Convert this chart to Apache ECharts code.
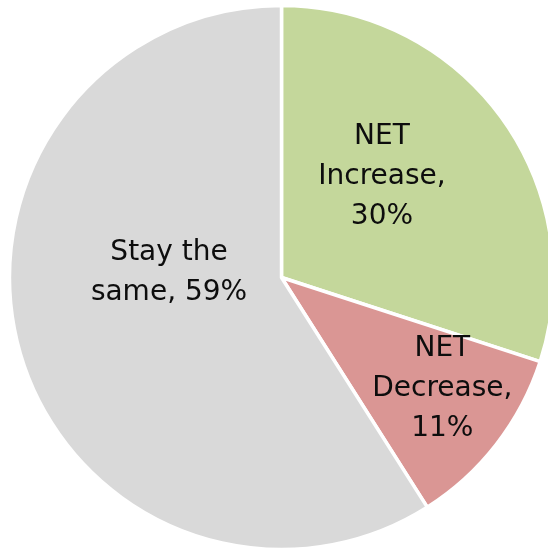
<!DOCTYPE html>
<html>
<head>
<meta charset="utf-8">
<script src="https://cdn.jsdelivr.net/npm/echarts@6/dist/echarts.min.js"></script>
<style>
  html, body { margin: 0; padding: 0; background: #fff; }
  #chart { width: 548px; height: 550px; }
</style>
</head>
<body>
<div id="chart"></div>
<script>
// Share of respondents by expected change
const categories = ['NET\nIncrease', 'NET\nDecrease', 'Stay the\nsame'];
const shares = [30, 11, 59];
const colors = ['#c4d79b', '#da9694', '#d9d9d9'];
// text placed between the category name and its value
const separators = [',\n', ',\n', ', '];
// label nudges from the default inside position
const labelOffsets = [[-12, -19], [51, 26], [21, -44]];

const chart = echarts.init(document.getElementById('chart'), null, { renderer: 'canvas' });

chart.setOption({
  animation: false,
  series: [{
    type: 'pie',
    center: [281.5, 277.5],
    radius: [0, 272],
    startAngle: 90,
    clockwise: true,
    avoidLabelOverlap: false,
    itemStyle: { borderColor: '#ffffff', borderWidth: 3.5 },
    label: {
      show: true,
      position: 'inside',
      formatter: p => p.name + separators[p.dataIndex] + p.value + '%',
      color: '#0d0d0d',
      fontFamily: 'DejaVu Sans',
      fontSize: 28,
      lineHeight: 40,
      align: 'center'
    },
    labelLine: { show: false },
    emphasis: { disabled: true },
    data: categories.map((name, i) => ({
      name: name,
      value: shares[i],
      itemStyle: { color: colors[i] },
      label: { offset: labelOffsets[i] }
    }))
  }]
});
</script>
</body>
</html>
